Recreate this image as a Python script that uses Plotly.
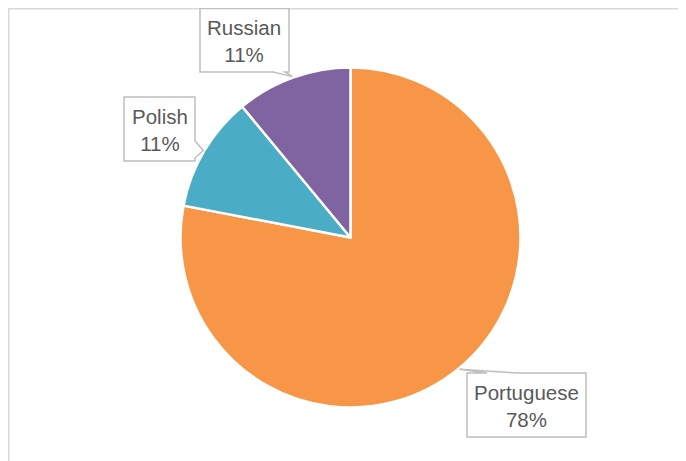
import math
import plotly.graph_objects as go

labels = ["Portuguese", "Polish", "Russian"]
values = [78, 11, 11]
colors = ["#F79646", "#4BACC6", "#8064A2"]
pct_text = ["78%", "11%", "11%"]

W, H = 686, 461
OFF = 8  # page body margin in the screenshot
cx, cy, R = 350.5, 237.5, 170.0

# label boxes (screen pixel layout): x0, y0, x1, y1, wedge base (edge, a, b)
boxes = {
    "Russian": (200, 8.5, 289, 72, ("bottom", 273, 285)),
    "Polish": (124, 97, 195, 161, ("right", 141, 158)),
    "Portuguese": (467, 373, 586, 437, ("top", 487, 517)),
}

def px(x):
    return (x - OFF) / W

def py(y):
    return 1 - (y - OFF) / H

fig = go.Figure(go.Pie(
    labels=labels, values=values, sort=False, direction="clockwise", rotation=0,
    marker=dict(colors=colors, line=dict(color="white", width=2.5)),
    textinfo="none", hoverinfo="label+percent", showlegend=False,
    domain=dict(x=[px(cx - R), px(cx + R)], y=[py(cy + R), py(cy - R)]),
))

shapes = []
annotations = []
# frame border
shapes.append(dict(type="path", xref="paper", yref="paper",
                   path=f"M {px(8.75)},{py(480)} L {px(8.75)},{py(8.75)} L {px(710)},{py(8.75)}",
                   line=dict(color="#D9D9D9", width=1.5)))

total = sum(values)
cum = 0
for lab, v, t in zip(labels, values, pct_text):
    mid = (cum + v / 2) / total * 2 * math.pi
    cum += v
    tx = cx + (R + 1) * math.sin(mid)
    ty = cy - (R + 1) * math.cos(mid)
    x0, y0, x1, y1, (edge, a, b) = boxes[lab]
    if edge == "bottom":
        pts = [(x0, y0), (x1, y0), (x1, y1), (b, y1), (tx, ty), (a, y1), (x0, y1)]
    elif edge == "right":
        pts = [(x0, y0), (x1, y0), (x1, a), (tx, ty), (x1, b), (x1, y1), (x0, y1)]
    else:
        pts = [(x0, y0), (a, y0), (tx, ty), (b, y0), (x1, y0), (x1, y1), (x0, y1)]
    path = "M " + " L ".join(f"{px(p[0])},{py(p[1])}" for p in pts) + " Z"
    shapes.append(dict(type="path", xref="paper", yref="paper", path=path,
                       fillcolor="white", line=dict(color="#BFBFBF", width=1.5)))
    annotations.append(dict(xref="paper", yref="paper", x=px((x0 + x1) / 2), y=py((y0 + y1) / 2 + 1),
                            text=f"{lab}<br>{t}", showarrow=False,
                            xanchor="center", yanchor="middle",
                            font=dict(family="Liberation Sans, Arial", size=20.5, color="#595959")))

fig.update_layout(
    width=W, height=H, margin=dict(l=0, r=0, t=0, b=0),
    paper_bgcolor="white", plot_bgcolor="white",
    shapes=shapes, annotations=annotations,
)

fig.write_html("out.html")
